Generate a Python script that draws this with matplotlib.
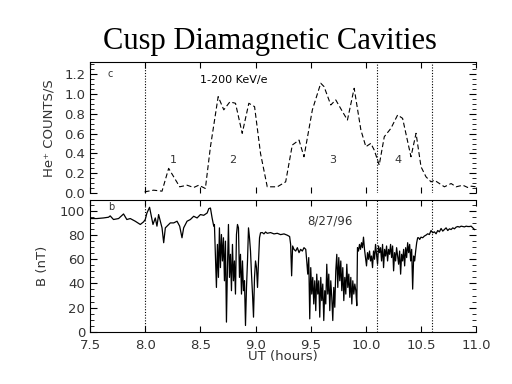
import numpy as np
import matplotlib
matplotlib.use("Agg")
import matplotlib.pyplot as plt
from matplotlib.ticker import MultipleLocator

# He counts (top panel), 1-200 keV/e
t_he = [7.994, 8.076, 8.152, 8.212, 8.312, 8.379, 8.439, 8.485, 8.545, 8.591,
        8.661, 8.712, 8.767, 8.818, 8.879, 8.939, 8.991, 9.045, 9.106, 9.197,
        9.273, 9.333, 9.394, 9.439, 9.515, 9.591, 9.621, 9.682, 9.727, 9.788,
        9.833, 9.894, 9.955, 10.0, 10.045, 10.076, 10.121, 10.167, 10.227, 10.288,
        10.333, 10.409, 10.455, 10.5, 10.545, 10.591, 10.621, 10.667, 10.712, 10.773,
        10.818, 10.879, 10.924, 10.955, 11.0]
he = [0.013, 0.03, 0.02, 0.25, 0.064, 0.08, 0.057, 0.08, 0.047, 0.468,
      0.973, 0.84, 0.92, 0.906, 0.603, 0.906, 0.872, 0.40, 0.064, 0.064,
      0.114, 0.485, 0.535, 0.367, 0.84, 1.108, 1.074, 0.889, 0.94, 0.822,
      0.737, 1.057, 0.636, 0.468, 0.502, 0.434, 0.283, 0.569, 0.653, 0.788,
      0.754, 0.367, 0.603, 0.266, 0.165, 0.114, 0.131, 0.097, 0.064, 0.097,
      0.064, 0.08, 0.057, 0.07, 0.064]

# magnetic field (bottom panel), in pieces
t_b1 = [7.5, 7.561, 7.621, 7.667, 7.682, 7.712, 7.758, 7.803, 7.833, 7.864,
        7.909, 7.955, 7.985, 8.0, 8.015, 8.039, 8.052, 8.07, 8.091, 8.106,
        8.121, 8.136, 8.152, 8.167, 8.182, 8.197, 8.227, 8.258, 8.288, 8.312,
        8.333, 8.348, 8.379, 8.409, 8.439, 8.47, 8.5, 8.53, 8.561, 8.576,
        8.591, 8.606, 8.621]
b1 = [93.7, 93.7, 94.2, 94.8, 95.9, 92.9, 93.7, 97.5, 92.9, 93.7,
      91.5, 88.8, 91.0, 92.9, 98.3, 103.0, 97.0, 88.8, 94.2, 87.4,
      97.0, 91.5, 86.0, 73.7, 86.0, 87.4, 90.1, 90.1, 91.5, 87.4,
      77.8, 86.0, 91.5, 92.9, 95.6, 94.2, 97.0, 96.4, 98.3, 101.9,
      102.4, 94.2, 87.4]

b2 = [88.8, 61.4, 36.7, 72.3, 45.0, 86.0, 53.1, 80.5, 58.6, 77.8,
      42.2, 75.0, 8.0, 53.1, 88.8, 45.0, 64.1, 34.0, 72.3, 42.2,
      58.6, 31.2, 80.5, 88.8, 86.0, 45.0, 64.1, 31.2, 58.6, 34.0,
      42.2, 5.2, 36.7, 58.6, 86.0, 77.8, 66.8, 47.7, 31.2, 12.1,
      45.0, 58.6, 53.1, 36.7, 58.6, 77.8, 81.9]
t_b2 = np.linspace(8.627, 9.045, len(b2))

t_b3 = [9.061, 9.076, 9.091, 9.106, 9.136, 9.167, 9.197, 9.227, 9.258, 9.288,
        9.309, 9.318, 9.327, 9.336, 9.348, 9.364, 9.379, 9.394, 9.409, 9.424,
        9.439, 9.455]
b3 = [82.1, 81.0, 82.6, 81.5, 82.1, 81.0, 81.5, 80.4, 81.0, 79.9,
      78.8, 72.3, 46.3, 71.0, 68.2, 66.8, 69.6, 65.5, 68.2, 66.8,
      69.6, 68.2]

b4 = [58.6, 47.7, 61.4, 10.7, 53.1, 31.2, 45.0, 23.0, 42.2, 17.5,
      47.7, 31.2, 42.2, 12.1, 45.0, 25.8, 39.5, 9.3, 34.0, 23.0,
      55.9, 31.2, 47.7, 17.5, 42.2, 28.5, 9.3, 36.7, 20.3, 50.4,
      64.1, 36.7, 61.4, 42.2, 58.6, 34.0, 53.1, 25.8, 45.0, 31.2,
      55.9, 36.7, 47.7, 28.5, 45.0, 23.0, 42.2, 31.2, 39.5, 34.0,
      21.6]
t_b4 = np.linspace(9.464, 9.918, len(b4))

b5 = [69.6, 66.8, 72.3, 68.2, 73.7, 69.6, 78.3, 68.2, 61.4, 54.5,
      65.5, 60.0, 66.8, 58.6, 62.7, 53.1, 66.8, 60.0, 72.3, 64.1,
      55.9, 71.0, 65.5, 69.6, 58.6, 72.3, 53.1, 68.2, 62.7, 71.0,
      58.6, 68.2, 64.1, 72.3, 61.4, 71.0, 50.4, 65.5, 58.6, 69.6,
      62.7, 55.9, 66.8, 47.7, 64.1, 58.6, 68.2, 54.5, 69.6, 61.4,
      73.7, 65.5, 72.3, 58.6, 68.2, 35.3, 62.7, 58.6, 66.8, 73.7,
      77.8, 77.8, 76.4]
t_b5 = np.linspace(9.924, 10.488, len(b5))

b6 = [78.3, 77.8, 79.2, 80.0, 81.1, 80.5, 83.8, 81.9, 82.7, 81.1,
      83.8, 82.7, 85.5, 83.3, 84.6, 86.0, 83.8, 85.2, 84.6, 86.0,
      85.2, 86.6, 87.1, 86.6, 87.4, 87.1, 86.8, 87.4, 87.1, 87.1,
      87.4, 86.0, 84.6]
t_b6 = np.linspace(10.5, 10.985, len(b6))

t_b = np.concatenate([t_b1, t_b2, t_b3, t_b4, t_b5, t_b6])
bmag = np.concatenate([b1, b2, b3, b4, b5, b6])

cavity_edges = [8.0, 10.1, 10.6]
cavity_labels = ['1', '2', '3', '4']
cavity_label_t = [8.25, 8.79, 9.70, 10.29]

plt.rcParams['xtick.direction'] = 'in'
plt.rcParams['ytick.direction'] = 'in'
plt.rcParams['font.family'] = 'DejaVu Sans'

fig = plt.figure(figsize=(5.12, 3.84), dpi=100)
fig.text(0.528, 0.872, 'Cusp Diamagnetic Cavities', family='Liberation Serif',
         fontsize=22, ha='center', va='baseline')

tick_col = '#333333'

# top panel
ax1 = fig.add_axes([0.176, 0.497, 0.754, 0.341])
ax1.plot(t_he, he, color='black', lw=0.8, linestyle=(0, (4.5, 2.5)))
for x in cavity_edges:
    ax1.axvline(x, color='black', lw=0.8, linestyle=(0, (1, 1.5)))
ax1.set_xlim(7.5, 11.0)
ax1.set_ylim(0, 1.32)
ax1.xaxis.set_major_locator(MultipleLocator(0.5))
ax1.yaxis.set_minor_locator(MultipleLocator(0.05))
ax1.set_yticks([0.0, 0.2, 0.4, 0.6, 0.8, 1.0, 1.2])
ax1.set_yticklabels(['0.0', '0.2', '0.4', '0.6', '0.8', '1.0', '1.2'])
ax1.tick_params(axis='x', which='both', top=True, bottom=True, labelbottom=False, length=4)
ax1.tick_params(axis='y', which='both', left=True, right=True, labelsize=9.5,
                labelcolor=tick_col)
ax1.tick_params(axis='y', which='major', length=5)
ax1.tick_params(axis='y', which='minor', length=3)
ax1.spines['right'].set_visible(False)
ax1.spines['bottom'].set_visible(False)
ax1.set_ylabel('He⁺ COUNTS/S', fontsize=9.5, color=tick_col, labelpad=6)
ax1.text(7.66, 1.2, 'c', fontsize=7, color=tick_col, va='center')
ax1.text(8.5, 1.14, '1-200 KeV/e', fontsize=8, color='black', va='center')
for lab, tx in zip(cavity_labels, cavity_label_t):
    ax1.text(tx, 0.33, lab, fontsize=8, color=tick_col, ha='center', va='center')

# bottom panel
ax2 = fig.add_axes([0.176, 0.136, 0.754, 0.343])
ax2.plot(t_b, bmag, color='black', lw=0.9)
for x in cavity_edges:
    ax2.axvline(x, color='black', lw=0.8, linestyle=(0, (1, 1.5)))
ax2.set_xlim(7.5, 11.0)
ax2.set_ylim(0, 109)
ax2.set_xticks([7.5, 8.0, 8.5, 9.0, 9.5, 10.0, 10.5, 11.0])
ax2.set_xticklabels(['7.5', '8.0', '8.5', '9.0', '9.5', '10.0', '10.5', '11.0'])
ax2.yaxis.set_major_locator(MultipleLocator(20))
ax2.yaxis.set_minor_locator(MultipleLocator(5))
ax2.tick_params(axis='x', which='both', top=True, bottom=True, length=4,
                labelsize=9.5, labelcolor=tick_col, pad=5)
ax2.tick_params(axis='y', which='both', left=True, right=True, labelsize=9.5,
                labelcolor=tick_col)
ax2.tick_params(axis='y', which='major', length=5)
ax2.tick_params(axis='y', which='minor', length=3)
ax2.spines['right'].set_visible(False)
ax2.set_ylabel('B (nT)', fontsize=9.5, color=tick_col, labelpad=8)
ax2.set_xlabel('UT (hours)', fontsize=9.5, color=tick_col, labelpad=-1)
ax2.text(7.66, 103, 'b', fontsize=7, color=tick_col, va='center')
ax2.text(9.47, 91.5, '8/27/96', fontsize=8.5, color=tick_col, va='center')

fig.savefig('out.png', dpi=100)
